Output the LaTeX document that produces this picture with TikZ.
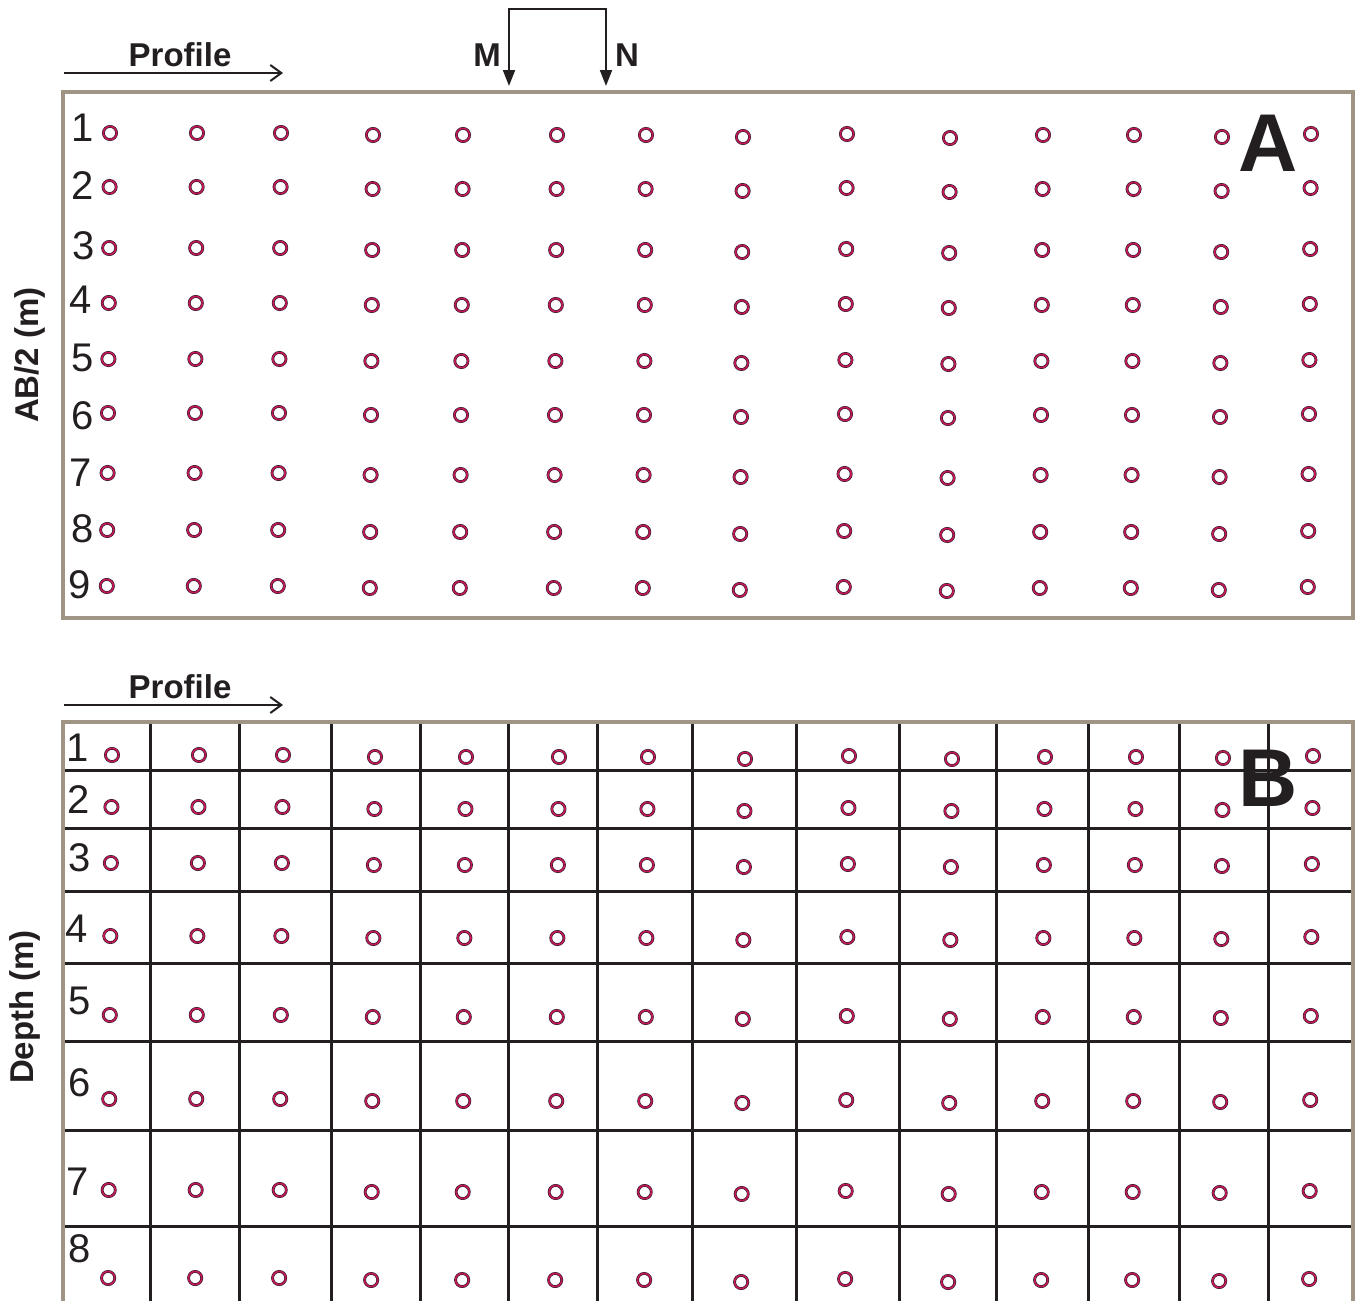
\documentclass[tikz,border=0pt]{standalone}
\usepackage{fontspec}
\setmainfont{Liberation Sans}
\usetikzlibrary{arrows.meta,positioning}
\definecolor{framegray}{HTML}{A09484}
\definecolor{inkdark}{HTML}{231F20}
\definecolor{dotred}{HTML}{C2185B}

\begin{document}
\begin{tikzpicture}[x=0.5pt,y=-0.5pt,
  frame/.style={draw=framegray,line width=2pt},
  gridline/.style={draw=inkdark,line width=1.5pt},
  dot/.style={circle,inner sep=0pt,minimum size=6.6pt,draw=dotred,line width=0.85pt,
    preaction={draw=inkdark,line width=1.4pt}},
  num/.style={inner sep=0pt,font=\fontsize{20}{24}\selectfont,text=inkdark},
  lbl/.style={inner sep=0pt,font=\fontsize{16.5}{20}\selectfont\bfseries,text=inkdark},
  big/.style={inner sep=0pt,font=\fontsize{41}{48}\selectfont\bfseries,text=inkdark},
  profarrow/.style={draw=inkdark,line width=1pt,-{Straight Barb[length=5.5pt,width=8pt]}},
  elec/.style={draw=inkdark,line width=1pt,{Triangle[length=8pt,width=6pt]}-{Triangle[length=8pt,width=6pt]}}]
\useasboundingbox (0,0) rectangle (1356,1301);

% panel A
\coordinate (pa0) at (64,73);
\coordinate (pa1) at (283,73);
\draw[profarrow] (pa0) -- (pa1);
\node[lbl] (profa) at (180,55) {Profile};
\coordinate (mtip) at (509,86);
\coordinate (mtop) at (509,9);
\coordinate (ntip) at (606,86);
\draw[elec] (mtip) -- (mtop) -| (ntip);
\node[lbl] (mlbl) at (487,55) {M};
\node[lbl] (nlbl) at (627,55) {N};
\draw[frame] (63,92) rectangle (1353,618);
\node[lbl,rotate=90] (ylba) at (30,355) {AB/2 (m)};
\foreach \y [count=\r] in {133,187,248,303,359,413,473,530,586}{
  \foreach \x/\d [count=\c] in {110/0,197/0,281/0,373/2,463/2,557/2,646/2,743/4,847/1,950/5,1043/2,1134/2,1222/4,1311/1}{
    \node[dot] (a-\r-\c) at ({\x-0.4*(\r-1)},{\y+\d}) {};
  }
}
\foreach \y/\x [count=\r] in {128/83,186/83,246/84,300/81,358/83,416/83,473/81,529/83,585/80}{
  \node[num] (na\r) at (\x,\y) {\r};
}
\node[big] (tagA) at (1268,143) {A};

% panel B
\coordinate (pb0) at (64,705);
\coordinate (pb1) at (283,705);
\draw[profarrow] (pb0) -- (pb1);
\node[lbl] (profb) at (180,687) {Profile};
\foreach \x in {150,239,331,420,508,597,692,796,899,996,1088,1179,1268}{
  \draw[gridline] (\x,722) -- (\x,1301);
}
\foreach \y in {770,828,891,963,1041,1130,1226}{
  \draw[gridline] (63,\y) -- (1353,\y);
}
\draw[frame] (63,1301) |- (1353,722) -- (1353,1301);
\node[lbl,rotate=90] (ylbb) at (25,1007) {Depth (m)};
\foreach \y [count=\r] in {755,807,863,936,1015,1099,1190,1278}{
  \foreach \x/\d [count=\c] in {112/0,199/0,283/0,375/2,466/2,559/2,648/2,745/4,849/1,952/4,1045/2,1136/2,1223/3,1313/1}{
    \node[dot] (b-\r-\c) at ({\x-0.55*(\r-1)},{\y+\d}) {};
  }
}
\foreach \y/\x [count=\r] in {748/78,800/79,858/80,929/77,1001/80,1083/80,1182/78,1249/80}{
  \node[num] (nb\r) at (\x,\y) {\r};
}
\node[big] (tagB) at (1268,778) {B};
\end{tikzpicture}
\end{document}
